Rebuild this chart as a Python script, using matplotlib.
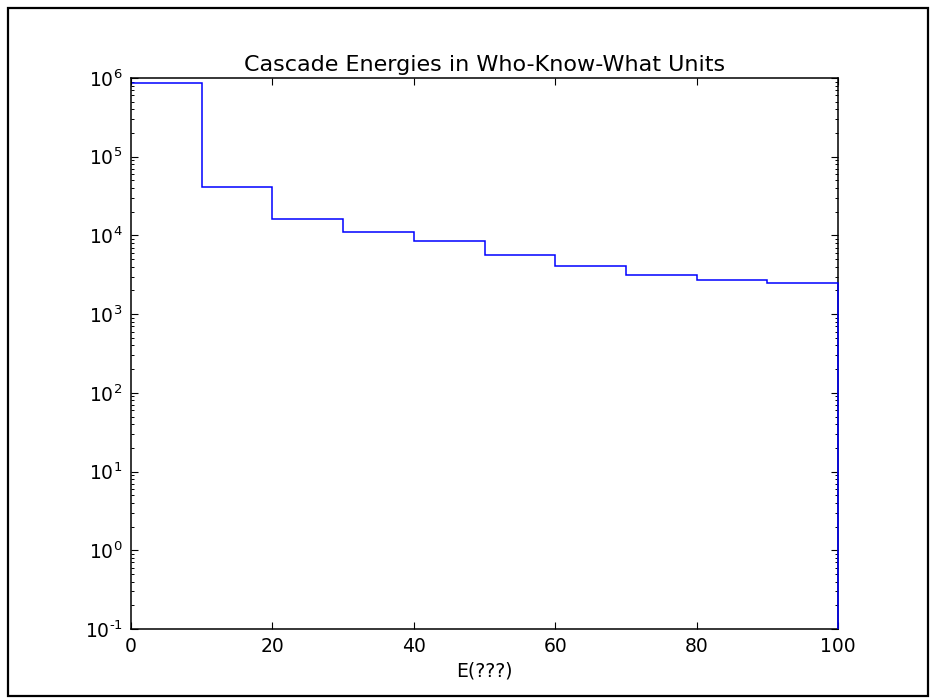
import numpy as np
import matplotlib
matplotlib.use('Agg')
import matplotlib.pyplot as plt
from matplotlib.patches import Rectangle
from matplotlib.ticker import FuncFormatter
from matplotlib.transforms import Bbox, TransformedBbox

# histogram data
bin_edges = [0, 10, 20, 30, 40, 50, 60, 70, 80, 90, 100]
counts = [8.6e5, 4.1e4, 1.63e4, 1.1e4, 8.4e3, 5.6e3, 4.05e3, 3.14e3, 2.69e3, 2.46e3]
x_ticks = [0, 20, 40, 60, 80, 100]

plt.rcParams['axes.unicode_minus'] = False


def log_label(v, pos):
    e = int(round(np.log10(v)))
    if e < 0:
        return r'$10^{\text{-}%d}$' % (-e)
    return r'$10^{%d}$' % e


fig = plt.figure(figsize=(9.33, 6.98), dpi=100)
ax = fig.add_axes([131 / 933, 69 / 698, 707 / 933, 551 / 698])

# step histogram with log y axis; right edge drawn over the spine like the old style
n, b, patches = ax.hist(bin_edges[:-1], bins=bin_edges, weights=counts,
                        histtype='step', color='b', linewidth=1.1, log=True)
clip = TransformedBbox(Bbox([[0.0015, 0], [1.003, 1]]), ax.transAxes)
for p in patches:
    p.set_zorder(3)
    p.set_clip_box(clip)

ax.set_xlim(0, 100)
ax.set_ylim(1e-1, 1e6)
ax.set_xticks(x_ticks)
ax.yaxis.set_major_formatter(FuncFormatter(log_label))

ax.tick_params(which='both', direction='in', top=True, right=True,
               labelsize=13.5, pad=6)
ax.tick_params(which='major', length=5, width=0.8)
ax.tick_params(which='minor', length=2.5, width=0.7)
for s in ax.spines.values():
    s.set_linewidth(1.1)

ax.set_title('Cascade Energies in Who-Know-What Units', fontsize=16, pad=5)
ax.set_xlabel('E(???)', fontsize=13.5, labelpad=4)

# frame around the whole picture
fig.patches.append(Rectangle((8 / 933, 2 / 698), 920 / 933, 688 / 698,
                             transform=fig.transFigure, fill=False,
                             edgecolor='black', linewidth=1.6))

fig.savefig('out.png', dpi=100)
